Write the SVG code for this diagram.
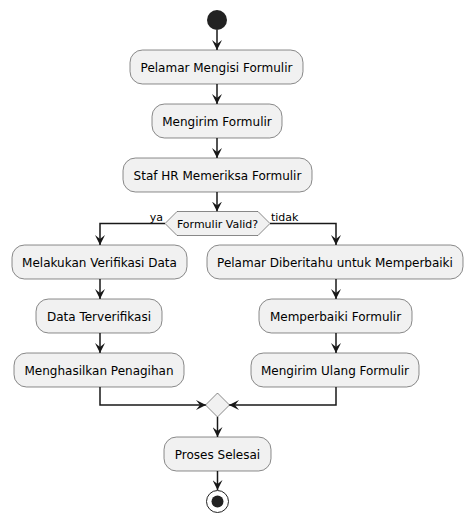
<svg xmlns="http://www.w3.org/2000/svg" width="473" height="523" viewBox="0 0 473 523">
<style>
.box{fill:#F1F1F1;stroke:#181818;stroke-width:0.5}
.t{font-family:"DejaVu Sans",sans-serif;font-size:12px;fill:#000;text-anchor:middle}
.s{font-family:"DejaVu Sans",sans-serif;font-size:11px;fill:#000}
.c{fill:none;stroke:#181818;stroke-width:1.5}
</style>
<defs>
<marker id="ah" viewBox="0 0 10 10" refX="10" refY="5" markerWidth="10" markerHeight="10" markerUnits="userSpaceOnUse" orient="auto">
<path d="M0,0 L10,5 L0,10 L4,5 Z" fill="#181818"/>
</marker>
</defs>
<rect width="473" height="523" fill="#FFFFFF"/>
<g id="connectors">
<path class="c" d="M217,30 V50" marker-end="url(#ah)"/>
<path class="c" d="M217,84 V104" marker-end="url(#ah)"/>
<path class="c" d="M217,138 V158" marker-end="url(#ah)"/>
<path class="c" d="M217,192 V211.5" marker-end="url(#ah)"/>
<path class="c" d="M165,223.5 H100 V245" marker-end="url(#ah)"/>
<path class="c" d="M270,223.5 H336 V245" marker-end="url(#ah)"/>
<path class="c" d="M100,279 V299" marker-end="url(#ah)"/>
<path class="c" d="M100,333 V353" marker-end="url(#ah)"/>
<path class="c" d="M336,279 V299" marker-end="url(#ah)"/>
<path class="c" d="M336,333 V353" marker-end="url(#ah)"/>
<path class="c" d="M100,387 V405 H206" marker-end="url(#ah)"/>
<path class="c" d="M336,387 V405 H229" marker-end="url(#ah)"/>
<path class="c" d="M217.5,417 V437" marker-end="url(#ah)"/>
<path class="c" d="M217.5,471 V490" marker-end="url(#ah)"/>
<text class="s" x="163" y="220.5" text-anchor="end">ya</text>
<text class="s" x="271" y="220.5">tidak</text>
</g>
<g id="start"><circle cx="217" cy="20" r="10" fill="#222222"/></g>
<g id="n1"><rect class="box" x="130" y="50" width="173" height="34" rx="12.5"/><text class="t" x="216.5" y="71.5">Pelamar Mengisi Formulir</text></g>
<g id="n2"><rect class="box" x="152" y="104" width="130" height="34" rx="12.5"/><text class="t" x="217" y="125.5">Mengirim Formulir</text></g>
<g id="n3"><rect class="box" x="123" y="158" width="189" height="34" rx="12.5"/><text class="t" x="217.5" y="179.5">Staf HR Memeriksa Formulir</text></g>
<g id="decision"><polygon class="box" points="165,223.5 177,211.5 258,211.5 270,223.5 258,235.5 177,235.5"/><text class="s" x="217.5" y="227.5" text-anchor="middle">Formulir Valid?</text></g>
<g id="l1"><rect class="box" x="12" y="245" width="175" height="34" rx="12.5"/><text class="t" x="99.5" y="266.5">Melakukan Verifikasi Data</text></g>
<g id="l2"><rect class="box" x="36" y="299" width="126" height="34" rx="12.5"/><text class="t" x="99" y="320.5">Data Terverifikasi</text></g>
<g id="l3"><rect class="box" x="14" y="353" width="170" height="34" rx="12.5"/><text class="t" x="99" y="374.5">Menghasilkan Penagihan</text></g>
<g id="r1"><rect class="box" x="207" y="245" width="256" height="34" rx="12.5"/><text class="t" x="335" y="266.5">Pelamar Diberitahu untuk Memperbaiki</text></g>
<g id="r2"><rect class="box" x="259" y="299" width="153" height="34" rx="12.5"/><text class="t" x="335.5" y="320.5">Memperbaiki Formulir</text></g>
<g id="r3"><rect class="box" x="251" y="353" width="168" height="34" rx="12.5"/><text class="t" x="335" y="374.5">Mengirim Ulang Formulir</text></g>
<g id="merge"><polygon class="box" points="217.5,393 229.5,405 217.5,417 205.5,405"/></g>
<g id="n4"><rect class="box" x="164" y="437" width="107" height="34" rx="12.5"/><text class="t" x="217.5" y="458.5">Proses Selesai</text></g>
<g id="end"><circle cx="217.5" cy="501.5" r="11" fill="none" stroke="#222222" stroke-width="1"/><circle cx="217.5" cy="501.5" r="6" fill="#222222"/></g>
</svg>
